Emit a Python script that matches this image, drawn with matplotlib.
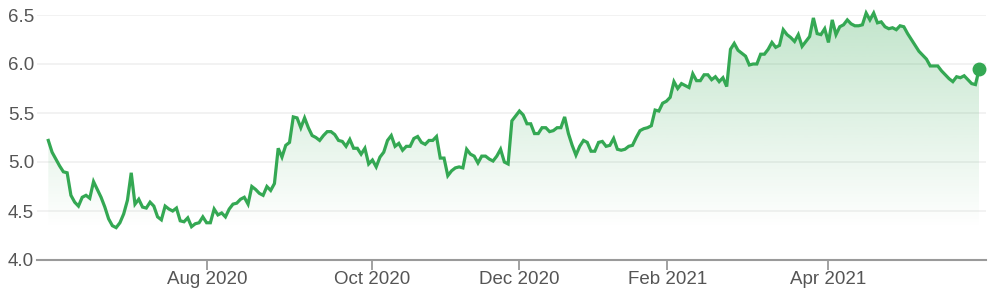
import numpy as np
import matplotlib
matplotlib.use("Agg")
import matplotlib.pyplot as plt
from matplotlib.colors import to_rgb

# daily closes (mid Jun 2020 -> May 2021)
values = [
    5.22, 5.10, 5.03, 4.96, 4.90, 4.89, 4.66, 4.59, 4.55, 4.64,
    4.66, 4.63, 4.80, 4.72, 4.64, 4.54, 4.42, 4.35, 4.33, 4.38,
    4.47, 4.61, 4.89, 4.57, 4.62, 4.54, 4.53, 4.59, 4.55, 4.44,
    4.41, 4.55, 4.52, 4.50, 4.53, 4.40, 4.39, 4.43, 4.34, 4.37,
    4.38, 4.44, 4.38, 4.38, 4.52, 4.46, 4.48, 4.44, 4.52,
    4.57, 4.58, 4.62, 4.64, 4.57, 4.75, 4.72, 4.68, 4.66, 4.75,
    4.71, 4.78, 5.14, 5.05, 5.17, 5.20, 5.46, 5.45, 5.35, 5.45,
    5.35, 5.27, 5.25, 5.22, 5.27, 5.31, 5.31, 5.28, 5.22, 5.21,
    5.16, 5.23, 5.14, 5.14, 5.08, 5.14, 4.98, 5.02, 4.95, 5.05,
    5.10, 5.22, 5.27, 5.16, 5.19, 5.12, 5.16, 5.16, 5.24, 5.26,
    5.20, 5.18, 5.22, 5.22, 5.26, 5.04, 5.04, 4.86, 4.91, 4.94,
    4.95, 4.94, 5.13, 5.08, 5.06, 4.99, 5.06, 5.06, 5.03, 5.01,
    5.06, 5.13, 5.00, 4.98, 5.42, 5.47, 5.52, 5.48, 5.39, 5.39,
    5.29, 5.29, 5.35, 5.35, 5.31, 5.32, 5.35, 5.35, 5.46, 5.29,
    5.17, 5.07, 5.16, 5.22, 5.20, 5.11, 5.11, 5.20, 5.21, 5.16,
    5.17,
    5.24, 5.13, 5.12, 5.13, 5.16, 5.17, 5.25, 5.32, 5.34, 5.35,
    5.37, 5.53, 5.52, 5.60, 5.62, 5.66, 5.82, 5.75, 5.80, 5.78,
    5.76, 5.90, 5.83, 5.83, 5.89, 5.89, 5.84, 5.87, 5.82, 5.86,
    5.77, 6.15, 6.21, 6.14, 6.11, 6.08, 5.99, 6.00, 6.00, 6.10,
    6.10, 6.15, 6.22, 6.17, 6.19, 6.35, 6.30, 6.27, 6.23, 6.30,
    6.18, 6.23, 6.28, 6.47, 6.31, 6.30, 6.36, 6.22, 6.45, 6.30,
    6.38, 6.40, 6.45, 6.41, 6.39, 6.39, 6.40, 6.52, 6.45, 6.52,
    6.42, 6.43, 6.38, 6.36, 6.37, 6.35, 6.39, 6.38, 6.31, 6.25,
    6.19, 6.13, 6.09, 6.05, 5.98, 5.98, 5.98, 5.93, 5.89, 5.85,
    5.82, 5.87, 5.86, 5.88, 5.84, 5.80, 5.79, 5.95,
]

# month labels and the trading-day index where each falls
month_labels = ["Aug 2020", "Oct 2020", "Dec 2020", "Feb 2021", "Apr 2021"]
month_idx = [42.2, 85.8, 125, 164.2, 206.8]

y_ticks = [4.0, 4.5, 5.0, 5.5, 6.0, 6.5]

green = "#34a853"
x = np.arange(len(values))
y = np.array(values)

fig = plt.figure(figsize=(9.95, 3.0), dpi=100)
ax = fig.add_axes([37 / 995, 40 / 300, 949 / 995, 245 / 300])
plt.rcParams["font.family"] = ["Liberation Sans", "DejaVu Sans"]

# gradient fill under the line, fading out over the data range
ymin, ymax = 4.0, 6.5
poly = ax.fill_between(x, y, ymin, color="none", lw=0)
rgba = np.zeros((256, 1, 4))
rgba[..., :3] = to_rgb(green)
rgba[..., 3] = np.linspace(0.30, 0.0, 256)[:, None]
im = ax.imshow(rgba, extent=[x[0], x[-1], y.min(), y.max()], aspect="auto",
               origin="upper", zorder=1, interpolation="bilinear")
im.set_clip_path(poly.get_paths()[0], transform=ax.transData)

ax.plot(x, y, color=green, lw=2.3, zorder=3, clip_on=False,
        solid_joinstyle="miter")
ax.plot(x[-1], y[-1], "o", color=green, ms=9, zorder=4, clip_on=False)

ax.set_xlim(-3.0, len(values) - 1 + 1.8)
ax.set_ylim(ymin, ymax)

for t in y_ticks[1:]:
    ax.axhline(t, color="#f0f0f0", lw=1.2, zorder=0)

for s in ["top", "right", "left"]:
    ax.spines[s].set_visible(False)
ax.spines["bottom"].set_color("#9a9a9a")
ax.spines["bottom"].set_linewidth(1.5)
ax.spines["bottom"].set_zorder(5)

ax.set_yticks(y_ticks)
ax.set_yticklabels([f"{t:.1f}" for t in y_ticks])
ax.set_xticks(month_idx)
ax.set_xticklabels(month_labels)
ax.tick_params(axis="y", length=0, pad=2, labelsize=13.5, labelcolor="#555555")
ax.tick_params(axis="x", length=7, width=1.3, color="#9a9a9a", pad=1,
               labelsize=13.5, labelcolor="#555555")
for lab in ax.get_xticklabels() + ax.get_yticklabels():
    lab.set_fontfamily(["Liberation Sans", "DejaVu Sans"])

fig.savefig("out.png", dpi=100)
